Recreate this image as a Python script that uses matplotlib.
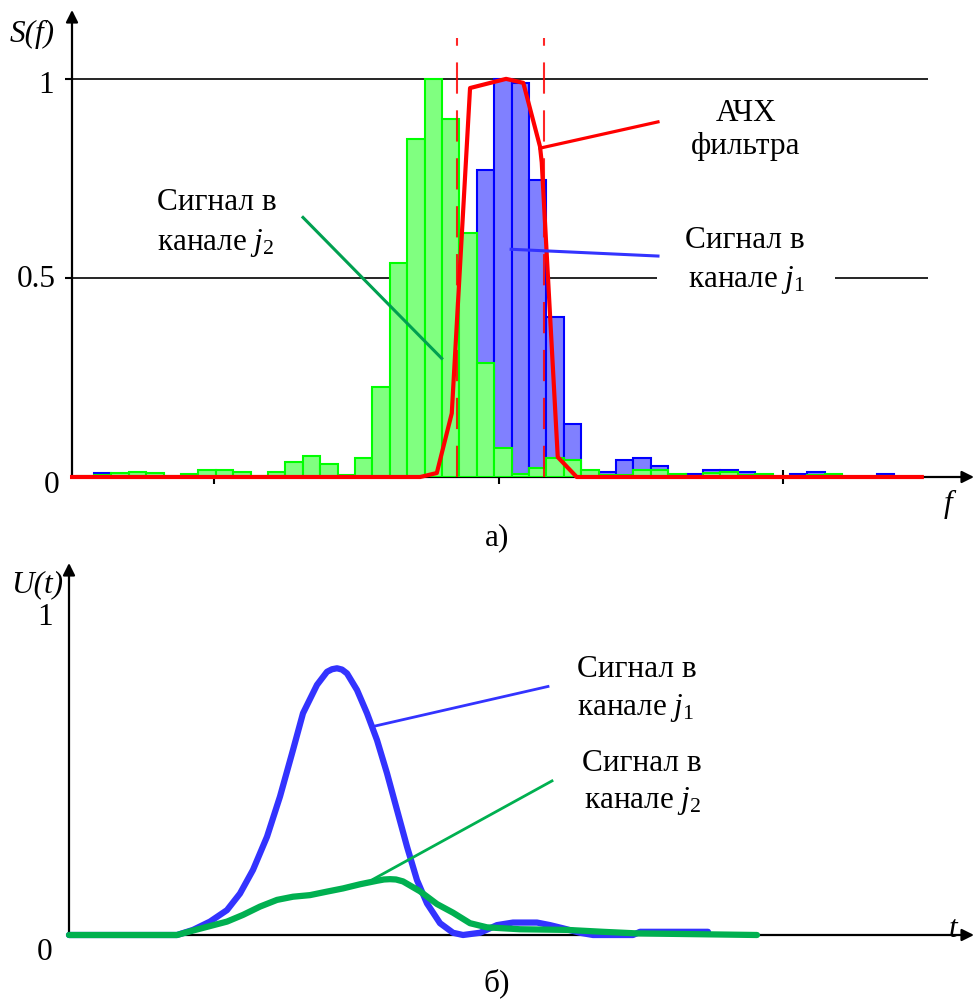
import matplotlib
matplotlib.use("Agg")
import matplotlib.pyplot as plt

plt.rcParams['font.family'] = ['Liberation Serif', 'DejaVu Serif']
plt.rcParams['mathtext.fontset'] = 'custom'
plt.rcParams['mathtext.rm'] = 'Liberation Serif'
plt.rcParams['mathtext.it'] = 'Liberation Serif:italic'

# spectrum a): bin heights, one value per frequency bin (bin i spans [i, i+1])
green_bins = [0.003, 0.005, 0.009, 0.013, 0.009, 0.003, 0.008, 0.018, 0.018, 0.013,
              0.003, 0.013, 0.038, 0.053, 0.033, 0.005, 0.047, 0.227, 0.538, 0.849,
              1.0, 0.899, 0.614, 0.287, 0.072, 0.007, 0.022, 0.047, 0.043, 0.018,
              0.005, 0.005, 0.018, 0.018, 0.008, 0.003, 0.01, 0.013, 0.005, 0.008,
              0.0, 0.003, 0.005, 0.008, 0.0, 0.0, 0.003, 0.0]
blue_bins = [0.0, 0.009, 0.0, 0.0, 0.0, 0.0, 0.0, 0.0, 0.0, 0.0,
             0.0, 0.0, 0.0, 0.0, 0.0, 0.0, 0.0, 0.0, 0.0, 0.0,
             0.0, 0.0, 0.0, 0.77, 1.0, 0.99, 0.745, 0.403, 0.132, 0.01,
             0.012, 0.043, 0.047, 0.028, 0.005, 0.008, 0.018, 0.018, 0.013, 0.003,
             0.0, 0.008, 0.013, 0.003, 0.0, 0.0, 0.008, 0.0]

# filter response (АЧХ фильтра)
filt_f = [-0.26, 19.74, 20.70, 21.56, 22.61, 24.68, 25.67, 26.63, 26.73, 27.65, 28.74, 48.57]
filt_s = [0.0, 0.0, 0.01, 0.16, 0.977, 1.0, 0.99, 0.83, 0.79, 0.05, 0.0, 0.0]
band_edges = [21.88, 26.84]
f_ticks = [7.9, 24.25, 40.6]

# signals b)
t_blue = [0, 1.08, 1.24, 1.41, 1.58, 1.71, 1.84, 1.98, 2.11, 2.24, 2.34, 2.48, 2.58, 2.63,
          2.68, 2.73, 2.78, 2.88, 2.98, 3.08, 3.18, 3.28, 3.38, 3.48, 3.58, 3.71, 3.84,
          3.94, 4.11, 4.28, 4.44, 4.68, 4.81, 4.94, 5.11, 5.24, 5.64, 5.71, 6.39]
u_blue = [0, 0, 0.016, 0.042, 0.078, 0.13, 0.204, 0.308, 0.434, 0.58, 0.695, 0.784, 0.825,
          0.833, 0.836, 0.832, 0.82, 0.768, 0.695, 0.611, 0.507, 0.392, 0.277, 0.172, 0.099,
          0.037, 0.007, 0.0, 0.007, 0.031, 0.039, 0.039, 0.031, 0.021, 0.007, 0.0, 0.0,
          0.01, 0.01]
t_green = [0, 1.08, 1.24, 1.41, 1.58, 1.74, 1.91, 2.08, 2.24, 2.41, 2.58, 2.74, 2.91, 3.08,
           3.15, 3.21, 3.27, 3.34, 3.51, 3.68, 3.84, 4.01, 4.18, 4.51, 4.98, 5.34, 5.68, 6.88]
u_green = [0, 0, 0.014, 0.028, 0.042, 0.063, 0.089, 0.11, 0.12, 0.125, 0.136, 0.146, 0.159,
           0.17, 0.174, 0.175, 0.174, 0.168, 0.137, 0.097, 0.07, 0.037, 0.024, 0.018, 0.016,
           0.01, 0.005, 0.0]

W, H = 975, 999


def fx(x):
    return x / W


def fy(y):
    return 1 - y / H


def label(x, y, s, **kw):
    fig.text(fx(x), fy(y), s, ha='center', va='baseline', fontsize=22.5, **kw)


fig = plt.figure(figsize=(9.75, 9.99), dpi=100)

# ---------- a) spectrum ----------
ax1 = fig.add_axes([fx(72), fy(477), (974 - 72) / W, (477 - 10) / H])
ax1.set_xlim(-0.264, 51.57)
ax1.set_ylim(0, 1.173)
for s in ax1.spines.values():
    s.set_visible(False)

ax1.hlines(1.0, -0.264, 48.93, color='k', lw=1.2, zorder=1)
ax1.hlines(0.5, -0.264, 33.36, color='k', lw=1.2, zorder=1)
ax1.hlines(0.5, 43.59, 48.93, color='k', lw=1.2, zorder=1)

idx = range(len(green_bins))
ax1.bar(idx, blue_bins, width=1, align='edge', color='#8080FF', edgecolor='#0000FF',
        lw=1.5, zorder=2)
ax1.bar(idx, green_bins, width=1, align='edge', color='#80FF80', edgecolor='#00FF00',
        lw=1.5, zorder=3)

for fe in band_edges:
    ax1.plot([fe, fe], [0, 1.103], color='red', lw=1.5, dashes=(15, 8), alpha=0.85,
             zorder=4)
ax1.plot(filt_f, filt_s, color='#FF0000', lw=3, zorder=5, clip_on=False)

# leaders
ax1.plot([26.63, 33.41], [0.826, 0.892], color='#FF0000', lw=2.3, zorder=5)
ax1.plot([24.97, 33.41], [0.572, 0.555], color='#3333FF', lw=2.2, zorder=5)
ax1.plot([13.01, 20.98], [0.652, 0.298], color='#00A050', lw=2.2, zorder=5)

ax1.set_yticks([0.5, 1.0])
ax1.set_yticklabels([])
ax1.set_xticks(f_ticks)
ax1.set_xticklabels([])
ax1.tick_params(axis='y', direction='out', length=5, width=1.5)
ax1.tick_params(axis='x', direction='inout', length=10, width=1.5)

arrow = dict(arrowstyle='-|>', color='k', lw=1.6, mutation_scale=18, shrinkA=0, shrinkB=0)
ax1.annotate('', xy=(1, 0), xytext=(0, 0), xycoords='axes fraction', arrowprops=arrow,
             annotation_clip=False, zorder=1)
ax1.annotate('', xy=(0, 1), xytext=(0, 0), xycoords='axes fraction', arrowprops=arrow,
             annotation_clip=False)

label(32, 42, 'S(f)', style='italic')
label(46, 93, '1')
label(36, 287, '0.5')
label(52, 493, '0')
label(948, 512, 'f', style='italic')
label(497, 545, 'а)')
label(746, 121, 'АЧХ')
label(746, 154, 'фильтра')
label(217, 210, 'Сигнал в')
label(216, 250, 'канале $j_2$')
label(745, 248, 'Сигнал в')
label(747, 287, 'канале $j_1$')

# ---------- b) signals ----------
ax2 = fig.add_axes([fx(69), fy(935), (974 - 69) / W, (935 - 563) / H])
ax2.set_xlim(0, 9.05)
ax2.set_ylim(0, 1.166)
for s in ax2.spines.values():
    s.set_visible(False)
ax2.set_xticks([])
ax2.set_yticks([])

ax2.annotate('', xy=(1, 0), xytext=(0, 0), xycoords='axes fraction', arrowprops=arrow,
             annotation_clip=False)
ax2.annotate('', xy=(0, 1), xytext=(0, 0), xycoords='axes fraction', arrowprops=arrow,
             annotation_clip=False)

ax2.plot(t_blue, u_blue, color='#3333FF', lw=4.5, solid_capstyle='round',
         solid_joinstyle='round', clip_on=False, zorder=3)
ax2.plot(t_green, u_green, color='#00B050', lw=4.5, solid_capstyle='round',
         solid_joinstyle='round', clip_on=False, zorder=4)
ax2.plot([3.06, 4.79], [0.655, 0.779], color='#3333FF', lw=2, zorder=3)
ax2.plot([3.043, 4.83], [0.175, 0.483], color='#00B050', lw=2, zorder=4)

label(37, 592, 'U(t)', style='italic')
label(45, 625, '1')
label(45, 960, '0')
label(953, 937, 't', style='italic')
label(497, 991, 'б)')
label(637, 677, 'Сигнал в')
label(636, 715, 'канале $j_1$')
label(642, 771, 'Сигнал в')
label(643, 808, 'канале $j_2$')

fig.savefig('out.png', dpi=100)
